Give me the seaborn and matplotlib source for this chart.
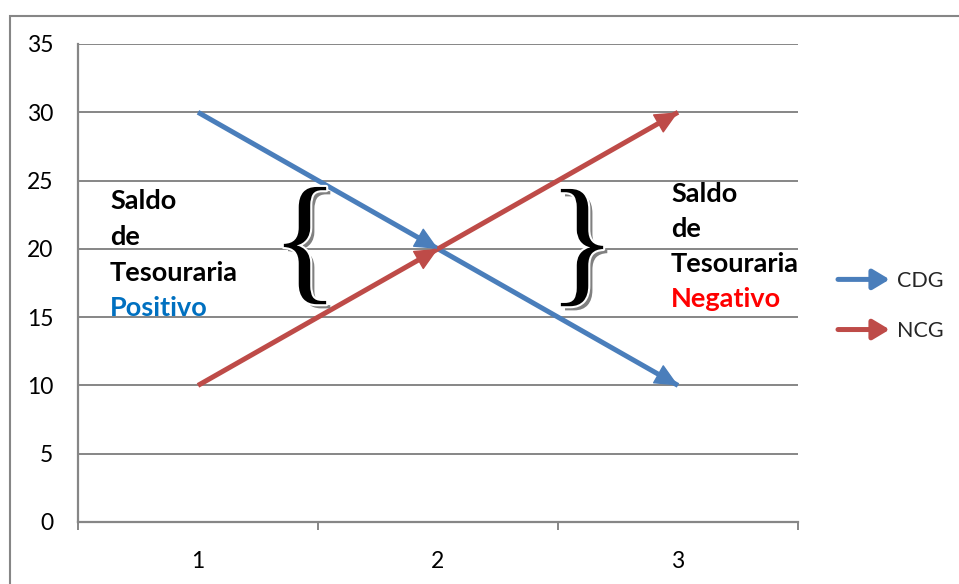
import matplotlib
matplotlib.use("Agg")
import matplotlib.pyplot as plt
import matplotlib.patheffects as pe
from matplotlib.patches import FancyArrowPatch, Rectangle
from matplotlib.legend_handler import HandlerBase
import seaborn as sns
import pandas as pd

# ---- data -------------------------------------------------------------
categories = [1, 2, 3]
cdg = [30, 20, 10]
ncg = [10, 20, 30]
series_names = ["CDG", "NCG"]
y_ticks = [0, 5, 10, 15, 20, 25, 30, 35]

BLUE = "#4A7EBB"
RED = "#BE4B48"
GRID = "#868686"

sns.set_theme(style="white")
plt.rcParams["font.family"] = ["Lato", "DejaVu Sans"]

W, H = 959, 584
fig = plt.figure(figsize=(W / 100, H / 100), dpi=100)

def px_x(x):
    return x / W

def px_y(y):
    return 1 - y / H

ax = fig.add_axes([px_x(78), px_y(522), px_x(798) - px_x(78), px_y(44) - px_y(522)])

df = pd.DataFrame({
    "pos": categories * 2,
    "value": cdg + ncg,
    "serie": [series_names[0]] * 3 + [series_names[1]] * 3,
})
palette = {"CDG": BLUE, "NCG": RED}
sns.lineplot(data=df, x="pos", y="value", hue="serie", palette=palette,
             linewidth=3.6, legend=False, ax=ax, zorder=3)
for ln in ax.get_lines():
    ln.set_solid_capstyle("butt")

# arrowheads at the end of every segment
head = "-|>,head_length=15,head_width=7"
for name, vals in zip(series_names, [cdg, ncg]):
    for i in range(1, len(vals)):
        x0, y0 = categories[i - 1], vals[i - 1]
        x1, y1 = categories[i], vals[i]
        xs = x1 - 0.12 * (x1 - x0)
        ys = y1 - 0.12 * (y1 - y0)
        ax.annotate("", xy=(x1, y1), xytext=(xs, ys),
                    arrowprops=dict(arrowstyle=head, mutation_scale=1,
                                    lw=1.0, color=palette[name],
                                    shrinkA=0, shrinkB=0),
                    zorder=4)

# ---- axes styling -----------------------------------------------------
ax.set_xlim(0.5, 3.5)
ax.set_ylim(0, 35)
ax.set_yticks(y_ticks)
ax.set_xticks(categories)
ax.set_xticklabels([str(c) for c in categories])
ax.set_xticks([0.5, 1.5, 2.5, 3.5], minor=True)
ax.set_xlabel("")
ax.set_ylabel("")
ax.yaxis.grid(True, color=GRID, linewidth=1.4)
ax.xaxis.grid(False)
ax.set_axisbelow(True)
for s in ["top", "right"]:
    ax.spines[s].set_visible(False)
for s in ["left", "bottom"]:
    ax.spines[s].set_color(GRID)
    ax.spines[s].set_linewidth(1.6)
ax.tick_params(axis="y", which="major", direction="out", length=5.8,
               width=1.4, color=GRID, pad=12, labelsize=16.5, labelcolor="black")
ax.tick_params(axis="x", which="major", length=0, pad=21, labelsize=16.5,
               labelcolor="black")
ax.tick_params(axis="x", which="minor", direction="out", length=5.8,
               width=1.4, color=GRID, bottom=True)

# ---- annotations ------------------------------------------------------
def data_from_px(xp, yp):
    return 0.5 + (xp - 78) / 240.0, (522 - yp) / (478 / 35.0)

left_lines = [("Saldo", "black", 209), ("de", "black", 245),
              ("Tesouraria", "black", 281), ("Positivo", "#0070C0", 316)]
right_lines = [("Saldo", "black", 202), ("de", "black", 237),
               ("Tesouraria", "black", 272), ("Negativo", "#FF0000", 307)]
for lines, xp in [(left_lines, 110), (right_lines, 671)]:
    for txt, col, yp in lines:
        xd, yd = data_from_px(xp, yp)
        ax.text(xd, yd, txt, color=col, fontsize=19.5, fontweight="bold",
                ha="left", va="baseline", zorder=5)

brace_fx = [pe.SimplePatchShadow(offset=(3, -3), shadow_rgbFace="#808080", alpha=1.0),
            pe.Stroke(linewidth=3, foreground="white"), pe.Normal()]
for ch, xp, yp in [("{", 305, 251), ("}", 582, 253)]:
    xd, yd = data_from_px(xp, yp)
    ax.text(xd, yd, ch, fontsize=102, family=["Liberation Serif"], color="black",
            ha="center", va="center", zorder=5, path_effects=brace_fx)

# ---- legend with arrow keys -------------------------------------------
class ArrowHandler(HandlerBase):
    def create_artists(self, legend, orig_handle, xdescent, ydescent,
                       width, height, fontsize, trans):
        y = height / 2 - ydescent
        arr = FancyArrowPatch((-xdescent, y), (width - xdescent, y),
                              arrowstyle="-|>,head_length=10,head_width=6",
                              mutation_scale=1, lw=3.6,
                              color=orig_handle.get_color(),
                              shrinkA=0, shrinkB=0, transform=trans)
        return [arr]

handles = ax.get_lines()[:2]
leg = fig.legend(handles, series_names, handler_map={type(handles[0]): ArrowHandler()},
                 loc="center left", bbox_to_anchor=(px_x(838), px_y(306)),
                 frameon=False, fontsize=15.5, handlelength=2.4, handletextpad=0.35,
                 labelspacing=1.4, borderpad=0, borderaxespad=0)

# chart-area border
fig.patches.append(Rectangle((px_x(9.5), -0.1), 2.0, px_y(16) + 0.1,
                             transform=fig.transFigure, fill=False,
                             edgecolor=GRID, linewidth=1.5))

fig.savefig("out.png", dpi=100)
